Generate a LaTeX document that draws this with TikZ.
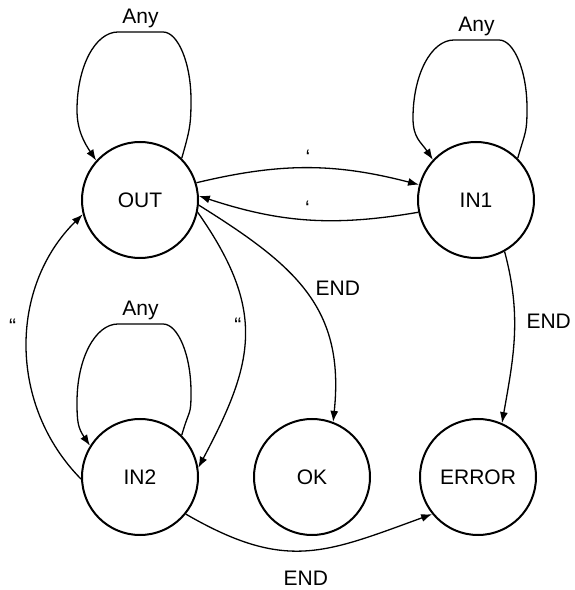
\documentclass[tikz,border=0pt]{standalone}
\usepackage{fontspec}
\setmainfont{Liberation Sans}
\usetikzlibrary{arrows.meta,calc}
\tikzstyle{state}=[circle,draw,line width=2pt,minimum size=116pt,inner sep=0pt]
\tikzstyle{edge}=[line width=1.3pt,-{Latex[length=11pt,width=8pt]}]
\tikzstyle{lbl}=[inner sep=3pt]
% self loop: node, height of the top, end angle
\def\anyloop#1#2#3{\draw[edge] (#1.45) .. controls +(8,28) and +(0,-25) .. ($(#1)+(51,#2-68)$)
  .. controls +(0,37) and +(15,0) .. ($(#1)+(23,#2)$)
  -- node[above,lbl] {Any} ($(#1)+(-22,#2)$)
  .. controls +(-23,0) and +(0,43) .. ($(#1)+(-63,#2-78)$)
  .. controls +(0,-20) and +(-12,18) .. (#1.#3)}

\begin{document}
\begin{tikzpicture}[x=1pt,y=1pt,font=\fontsize{21}{25}\selectfont]
  \useasboundingbox (0,0) rectangle (574,590);
  % states
  \node[state] (out) at (140,390) {OUT};
  \node[state] (in1) at (476,390) {IN1};
  \node[state] (in2) at (140,113) {IN2};
  \node[state] (ok) at (312,113) {OK};
  \node[state] (err) at (478,113) {ERROR};
  % loops
  \anyloop{out}{168}{138};
  \anyloop{in1}{160}{137};
  \anyloop{in2}{153}{148};
  % transitions
  \draw[edge] (out.17) to[bend left=14] node[above,lbl] {‘} (in1.165);
  \draw[edge] (in1.192) to[bend left=14] node[above,lbl] {‘} (out.4);
  \draw[edge] (out.-5) to[out=-32,in=84,looseness=1.15] node[right=9pt,pos=.47] {END} (ok.69);
  \draw[edge] (out.-12) to[out=-55,in=62,looseness=1.2] node[left,pos=.45,lbl] {“} (in2.9);
  \draw[edge] (in2.182) to[bend left=45] node[left=8pt,pos=.57] {“} (out.194);
  \draw[edge] (in1.-61) to[out=-75,in=80] node[right=8pt,pos=.4] {END} (err.66);
  \draw[edge] (in2.-39) to[out=-30,in=200,looseness=1.2] node[below=17pt] {END} (err.219);
\end{tikzpicture}
\end{document}
